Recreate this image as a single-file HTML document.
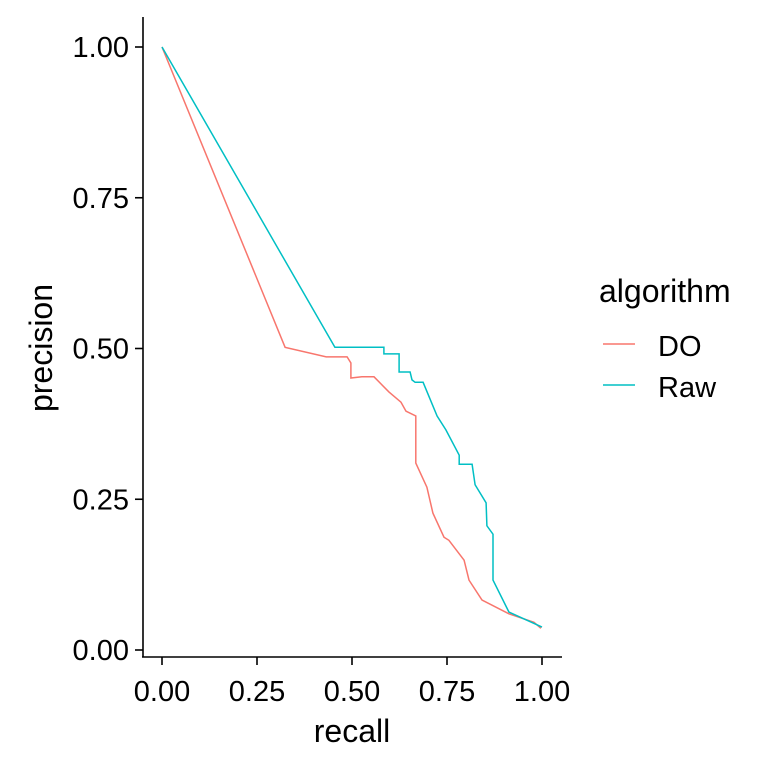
<!DOCTYPE html>
<html><head><meta charset="utf-8"><style>
html,body{margin:0;padding:0;background:#fff}
svg text{font-family:"Liberation Sans",Arial,sans-serif;fill:#000}
</style></head><body>
<svg id="chart" width="768" height="768" viewBox="0 0 768 768">
<g id="axes"></g>
<g id="series"></g>
<text x="352" y="742" font-size="32" text-anchor="middle">recall</text>
<text transform="translate(52,348) rotate(-90)" font-size="32" text-anchor="middle">precision</text>
<g>
<text x="599" y="302" font-size="32">algorithm</text>
<line x1="603" y1="344" x2="635" y2="344" stroke="#F8766D" stroke-width="1.5"/>
<text x="658" y="356" font-size="29">DO</text>
<line x1="603" y1="385" x2="635" y2="385" stroke="#00BFC4" stroke-width="1.5"/>
<text x="658" y="397" font-size="29">Raw</text>
</g>
</svg>
<script>
const ticks = [0, 0.25, 0.5, 0.75, 1];
const tickLabels = ["0.00", "0.25", "0.50", "0.75", "1.00"];
const doRecall = [0,0.324,0.432,0.487,0.497,0.497,0.526,0.558,0.597,0.629,0.642,0.668,0.668,0.697,0.713,0.742,0.755,0.795,0.808,0.842,0.913,0.979,0.997];
const doPrecision = [1,0.502,0.486,0.486,0.476,0.451,0.453,0.453,0.428,0.411,0.396,0.388,0.310,0.270,0.227,0.187,0.182,0.149,0.116,0.083,0.060,0.046,0.036];
const rawRecall = [0,0.455,0.584,0.584,0.624,0.624,0.653,0.658,0.666,0.687,0.724,0.747,0.782,0.782,0.816,0.824,0.853,0.855,0.871,0.871,0.913,1.0];
const rawPrecision = [1,0.502,0.502,0.491,0.491,0.461,0.461,0.448,0.444,0.444,0.388,0.365,0.323,0.308,0.308,0.274,0.244,0.206,0.192,0.116,0.063,0.038];

const NS = "http://www.w3.org/2000/svg";
const xS = v => 162 + v * 380;
const yS = v => 650 - v * 603;
function mk(tag, attrs, parent){const e=document.createElementNS(NS,tag);for(const k in attrs)e.setAttribute(k,attrs[k]);parent.appendChild(e);return e;}
const axes = document.getElementById('axes');
let el = mk('line',{x1:143,y1:17,x2:143,y2:657,stroke:'#000','stroke-width':1.6},axes);


el = mk('line',{x1:142,y1:657,x2:562,y2:657,stroke:'#000','stroke-width':1.6},axes);


ticks.forEach((t,i)=>{
  let a = mk('line',{x1:xS(t),y1:657,x2:xS(t),y2:665,stroke:'#000','stroke-width':1.6},axes);
  
  
  let b = mk('text',{x:xS(t),y:701,'font-size':29,'text-anchor':'middle'},axes);
  b.textContent = tickLabels[i];
  
  
  let c = mk('line',{x1:135,y1:yS(t),x2:143,y2:yS(t),stroke:'#000','stroke-width':1.6},axes);
  
  
  let d = mk('text',{x:129,y:yS(t)+10,'font-size':29,'text-anchor':'end'},axes);
  d.textContent = tickLabels[i];
  
  
});
const series = document.getElementById('series');
function line(xs, ys, color, name){
  const pts = xs.map((x,i)=>xS(x).toFixed(1)+','+yS(ys[i]).toFixed(1)).join(' ');
  const p = mk('polyline',{points:pts,fill:'none',stroke:color,'stroke-width':1.5},series);
  
  
}
line(doRecall, doPrecision, '#F8766D', 'do-line');
line(rawRecall, rawPrecision, '#00BFC4', 'raw-line');
</script>
</body></html>
